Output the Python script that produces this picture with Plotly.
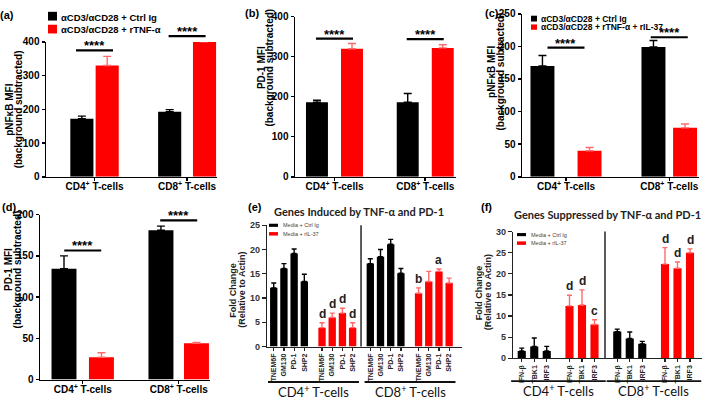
import plotly.graph_objects as go

W, H = 709, 404

# ---------------- data ----------------
cell_groups = ["CD4<sup>+</sup> T-cells", "CD8<sup>+</sup> T-cells"]
group_titles = ["CD4<sup>+</sup> T-cells", "CD8<sup>+</sup> T-cells"]
sig_text = "****"

# (a) pNFkB MFI
a_series = ["αCD3/αCD28 + Ctrl Ig", "αCD3/αCD28 + rTNF-α"]
a_ctrl = [172, 193]
a_ctrl_err = [8, 6]
a_trt = [330, 400]
a_trt_err = [27, 0]
a_sig_y = [375, 417]

# (b) PD-1 MFI
b_ctrl = [186, 186]
b_ctrl_err = [5, 22]
b_trt = [320, 322]
b_trt_err = [13, 8]
b_sig_y = [345, 344]

# (c) pNFkB MFI with rIL-37
c_series = ["αCD3/αCD28 + Ctrl Ig", "αCD3/αCD28 + rTNF-α + rIL-37"]
c_ctrl = [170, 199]
c_ctrl_err = [16, 10]
c_trt = [40, 75]
c_trt_err = [5, 6]
c_sig_y = [198, 214]

# (d) PD-1 MFI with rIL-37
d_ctrl = [134.5, 181]
d_ctrl_err = [15.5, 5]
d_trt = [27, 44]
d_trt_err = [5.5, 1]
d_sig_y = [156.5, 193]

# (e) Genes induced
e_title = "Genes Induced by TNF-α and PD-1"
e_genes = ["TNEM6F", "GM130", "PD-1", "SHP2"]
ef_series = ["Media + Ctrl Ig", "Media + rIL-37"]
e_cd4_ctrl = [12.1, 16.1, 19.2, 13.4]
e_cd4_ctrl_err = [1.0, 1.0, 0.9, 1.5]
e_cd4_il37 = [3.9, 6.0, 6.9, 3.9]
e_cd4_il37_err = [1.0, 0.9, 1.0, 1.0]
e_cd8_ctrl = [17.1, 18.5, 21.1, 15.1]
e_cd8_ctrl_err = [1.0, 1.5, 1.0, 1.0]
e_cd8_il37 = [11.0, 13.4, 15.5, 13.1]
e_cd8_il37_err = [1.1, 2.1, 0.5, 1.0]
e_cd4_letters = ["d", "d", "d", "d"]
e_cd8_letters = ["b", "", "a", ""]

# (f) Genes suppressed
f_title = "Genes Suppressed by TNF-α and PD-1"
f_genes = ["IFN-β", "TBK1", "IRF3"]
f_cd4_ctrl = [1.7, 2.8, 1.7]
f_cd4_ctrl_err = [0.7, 2.0, 1.1]
f_cd4_il37 = [12.4, 12.6, 8.0]
f_cd4_il37_err = [2.5, 3.6, 1.1]
f_cd8_ctrl = [6.3, 4.7, 3.4]
f_cd8_ctrl_err = [0.6, 1.5, 0.6]
f_cd8_il37 = [22.3, 21.3, 25.0]
f_cd8_il37_err = [3.9, 1.5, 0.9]
f_cd4_letters = ["d", "d", "c"]
f_cd8_letters = ["d", "d", "d"]

# ---------------- layout configuration ----------------
NARROW = "Liberation Sans Narrow, Arial Narrow, Liberation Sans, Arial, sans-serif"
SANS = "Liberation Sans, Arial, sans-serif"
HUM = "Lato, Open Sans, sans-serif"
RED = "#ff0000"
RED_ERR = "#ff6a6a"

P = {
    "a": dict(n="", xpx=(46, 217), ypx=(37, 176), xr=(-0.538, 1.312), yr=(0, 400), dtick=100,
              bw=0.25, off_c=(-0.15, -0.2), off_t=(0.124, 0.177)),
    "b": dict(n="2", xpx=(295, 456), ypx=(11, 176), xr=(-0.435, 1.339), yr=(0, 400), dtick=100,
              bw=0.242, off_c=(-0.193, -0.193), off_t=(0.193, 0.193)),
    "c": dict(n="3", xpx=(522, 699), ypx=(8, 176), xr=(-0.426, 1.288), yr=(0, 250), dtick=50,
              bw=0.232, off_c=(-0.228, -0.153), off_t=(0.228, 0.153)),
    "d": dict(n="4", xpx=(40, 210), ypx=(215, 385), xr=(-0.445, 1.326), yr=(0, 200), dtick=50,
              bw=0.26, off_c=(-0.195, -0.185), off_t=(0.195, 0.185)),
    "e": dict(n="5", xpx=(267, 462), ypx=(226, 351), xr=(-0.66, 18.46), yr=(0, 25), dtick=5,
              bw=0.72, starts=(0, 4.735, 9.47, 14.2), divider=8.56, lm=0.56, rm=0.62, gy=387.5),
    "f": dict(n="6", xpx=(513, 702), ypx=(232.5, 363), xr=(-0.7, 14.42), yr=(0, 30), dtick=5,
              bw=0.65, starts=(0, 3.82, 7.64, 11.46), divider=6.66, lm=0.85, rm=0.9, gy=386.7),
}


def xa(p):
    return "x" + p["n"]


def ya(p):
    return "y" + p["n"]


def px2paper(x, y):
    return x / W, 1 - y / H


def data2px(p, xv, yv):
    x0, x1 = p["xpx"]
    r0, r1 = p["xr"]
    yt, yb = p["ypx"]
    s0, s1 = p["yr"]
    return (x0 + (xv - r0) / (r1 - r0) * (x1 - x0),
            yb - (yv - s0) / (s1 - s0) * (yb - yt))


fig = go.Figure()
shapes = []
annos = []


def add_bars(p, xs, ys, errs, color, ecolor, ewidth, name):
    fig.add_trace(go.Bar(
        x=xs, y=ys, width=p["bw"], name=name,
        marker=dict(color=color, line=dict(width=0)),
        error_y=dict(type="data", array=errs, arrayminus=[0] * len(errs), symmetric=False,
                     color=ecolor, thickness=1.4, width=ewidth),
        xaxis=xa(p), yaxis=ya(p), showlegend=False, hoverinfo="skip"))


def line_px(x0, y0, x1, y1, width=1.8, color="black"):
    a0 = px2paper(x0, y0)
    a1 = px2paper(x1, y1)
    shapes.append(dict(type="line", xref="paper", yref="paper", x0=a0[0], y0=a0[1],
                       x1=a1[0], y1=a1[1], line=dict(color=color, width=width)))


def rect_px(x0, y0, x1, y1, color):
    a0 = px2paper(x0, y0)
    a1 = px2paper(x1, y1)
    shapes.append(dict(type="rect", xref="paper", yref="paper", x0=a0[0], y0=a0[1],
                       x1=a1[0], y1=a1[1], fillcolor=color, line=dict(width=0)))


def text_px(x, y, text, size, family=NARROW, bold=True, xanchor="center", yanchor="middle",
            angle=0, color="black", yshift=0):
    px, py = px2paper(x, y)
    annos.append(dict(x=px, y=py, xref="paper", yref="paper", text=text, showarrow=False,
                      xanchor=xanchor, yanchor=yanchor, textangle=angle, yshift=yshift,
                      font=dict(size=size, family=family, color=color,
                                weight="bold" if bold else "normal")))


layout_axes = {}


def axis_base(p, lw=1.5, lc="black"):
    return dict(showline=True, linecolor=lc, linewidth=lw, ticks="outside", ticklen=4,
                tickwidth=lw, tickcolor=lc, showgrid=False, zeroline=False, fixedrange=True)


ytitle_texts = {
    "a": ("pNFκB MFI", "(background subtracted)"),
    "b": ("PD-1 MFI", "(background subtracted)"),
    "c": ("pNFκB MFI", "(background subtracted)"),
    "d": ("PD-1 MFI", "(background subtracted)"),
}


def two_group_panel(key, ctrl, ctrl_err, trt, trt_err, sig_y, ytitle):
    p = P[key]
    xs_c = [g + o for g, o in enumerate(p["off_c"])]
    xs_t = [g + o for g, o in enumerate(p["off_t"])]
    add_bars(p, xs_c, ctrl, ctrl_err, "black", "black", 4, "ctrl")
    add_bars(p, xs_t, trt, trt_err, RED, RED_ERR, 4, "trt")
    centers = [(c + t) / 2 for c, t in zip(xs_c, xs_t)]
    xaxis = axis_base(p)
    xaxis.update(domain=[p["xpx"][0] / W, p["xpx"][1] / W], range=list(p["xr"]), anchor=ya(p),
                 tickmode="array", tickvals=centers, ticktext=cell_groups, ticklen=3,
                 tickfont=dict(size=10, family=NARROW, color="black", weight="bold"))
    yaxis = axis_base(p)
    yaxis.update(domain=[1 - p["ypx"][1] / H, 1 - p["ypx"][0] / H], range=list(p["yr"]),
                 dtick=p["dtick"], anchor=xa(p), ticklen=3,
                 tickfont=dict(size=10, family=NARROW, color="black", weight="bold"))
    layout_axes["xaxis" + p["n"]] = xaxis
    layout_axes["yaxis" + p["n"]] = yaxis
    for cx, sy in zip(centers, sig_y):
        pxc, pyc = data2px(p, cx, sy)
        line_px(pxc - 18.5, pyc, pxc + 18.5, pyc, width=2.2)
        text_px(pxc, pyc, sig_text, 13, family=SANS, yanchor="bottom", yshift=-5)
    tx, ty, gap = ytitle
    text_px(tx, ty, ytitle_texts[key][0], 10, angle=-90)
    text_px(tx + gap, ty, ytitle_texts[key][1], 10, angle=-90)


two_group_panel("a", a_ctrl, a_ctrl_err, a_trt, a_trt_err, a_sig_y, (10, 107, 8.5))
two_group_panel("b", b_ctrl, b_ctrl_err, b_trt, b_trt_err, b_sig_y, (261, 64, 8.5))
two_group_panel("c", c_ctrl, c_ctrl_err, c_trt, c_trt_err, c_sig_y, (492, 68, 8.5))
two_group_panel("d", d_ctrl, d_ctrl_err, d_trt, d_trt_err, d_sig_y, (9, 272, 8.5))


def gene_panel(key, genes, cd4c, cd4ce, cd4i, cd4ie, cd8c, cd8ce, cd8i, cd8ie, l4, l8, title,
               title_xy, ytitle_xy, legend_xy):
    p = P[key]
    ng = len(genes)
    st = p["starts"]
    xs = [[s + i for i in range(ng)] for s in st]
    add_bars(p, xs[0] + xs[2], cd4c + cd8c, cd4ce + cd8ce, "black", "black", 2.5, ef_series[0])
    add_bars(p, xs[1] + xs[3], cd4i + cd8i, cd4ie + cd8ie, RED, RED_ERR, 2.5, ef_series[1])
    allx = xs[0] + xs[1] + xs[2] + xs[3]
    xaxis = axis_base(p, lw=1.2, lc="#222")
    xaxis.update(domain=[p["xpx"][0] / W, p["xpx"][1] / W], range=list(p["xr"]), anchor=ya(p),
                 tickmode="array", tickvals=allx, ticktext=genes * 4, tickangle=-90, ticklen=3,
                 tickfont=dict(size=7, family=NARROW, color="#222", weight="bold"))
    yaxis = axis_base(p, lw=1.2, lc="#222")
    yaxis.update(domain=[1 - p["ypx"][1] / H, 1 - p["ypx"][0] / H], range=list(p["yr"]),
                 dtick=p["dtick"], anchor=xa(p),
                 tickfont=dict(size=9, family=NARROW, color="#333", weight="bold"))
    layout_axes["xaxis" + p["n"]] = xaxis
    layout_axes["yaxis" + p["n"]] = yaxis
    for xv, v, e, t in zip(xs[1] + xs[3], cd4i + cd8i, cd4ie + cd8ie, l4 + l8):
        if t:
            annos.append(dict(x=xv, y=v + e, xref=xa(p), yref=ya(p), text=t, showarrow=False,
                              yanchor="bottom", yshift=0,
                              font=dict(size=12, family=SANS, color="#222", weight="bold")))
    dx0, dy0 = data2px(p, p["divider"], p["yr"][0])
    dx1, dy1 = data2px(p, p["divider"], p["yr"][1])
    line_px(dx0, dy0, dx1, dy1, width=1.6, color="#333")
    gy = p["gy"]
    for k in range(2):
        x0, _ = data2px(p, st[2 * k] - p["lm"], 0)
        x1, _ = data2px(p, st[2 * k + 1] + ng - 1 + p["rm"], 0)
        line_px(x0, gy, x1, gy, width=1.8, color="#111")
        text_px((x0 + x1) / 2, gy + 9.5, group_titles[k], 13, family=HUM, bold=False, color="#111")
    text_px(title_xy[0], title_xy[1], title, 11, family=HUM, color="#222")
    text_px(ytitle_xy[0], ytitle_xy[1], "Fold Change", 9, angle=-90, color="#222")
    text_px(ytitle_xy[0] + 9, ytitle_xy[1], "(Relative to Actin)", 9, angle=-90, color="#222")
    lx, ly = legend_xy
    rect_px(lx, ly - 1.6, lx + 9, ly + 1.6, "black")
    rect_px(lx, ly + 7, lx + 9, ly + 10.6, RED)
    text_px(lx + 12, ly, ef_series[0], 5.5, family=SANS, bold=False, xanchor="left", color="#444")
    text_px(lx + 12, ly + 8.8, ef_series[1], 5.5, family=SANS, bold=False, xanchor="left", color="#444")


gene_panel("e", e_genes, e_cd4_ctrl, e_cd4_ctrl_err, e_cd4_il37, e_cd4_il37_err,
           e_cd8_ctrl, e_cd8_ctrl_err, e_cd8_il37, e_cd8_il37_err, e_cd4_letters, e_cd8_letters,
           e_title, (359, 212), (233.5, 293), (269, 226))
gene_panel("f", f_genes, f_cd4_ctrl, f_cd4_ctrl_err, f_cd4_il37, f_cd4_il37_err,
           f_cd8_ctrl, f_cd8_ctrl_err, f_cd8_il37, f_cd8_il37_err, f_cd4_letters, f_cd8_letters,
           f_title, (607, 214.5), (479, 295), (517, 235.6))

# legends for (a) and (c)
rect_px(48, 6, 57, 15, "black")
rect_px(48, 19.3, 57, 28.3, RED)
text_px(59, 11.5, a_series[0], 9.5, xanchor="left")
text_px(59, 24.5, a_series[1], 9.5, xanchor="left")

rect_px(531, 10, 537, 16, "black")
rect_px(531, 19, 537, 24.5, RED)
text_px(538.5, 13, c_series[0], 8.5, xanchor="left")
text_px(538.5, 22, c_series[1], 8.5, xanchor="left")

# panel labels
for lab, (lx, ly) in {"(a)": (6.5, 9), "(b)": (252, 7), "(c)": (492, 7),
                      "(d)": (8.5, 207), "(e)": (254.5, 207), "(f)": (486, 207)}.items():
    text_px(lx, ly, lab, 11, family=SANS)

fig.update_layout(
    width=W, height=H, margin=dict(l=0, r=0, t=0, b=0),
    paper_bgcolor="white", plot_bgcolor="white", barmode="overlay",
    shapes=shapes, annotations=annos, showlegend=False, **layout_axes)

# pull the category labels of panels (a)-(d) a little closer to their axes
for n in ["", "2", "3", "4"]:
    try:
        fig.update_layout({"xaxis" + n: dict(ticklabelstandoff=-3)})
    except ValueError:
        pass

fig.write_html("out.html", config={"displayModeBar": False, "staticPlot": True},
               post_script="document.body.style.margin='0px';document.body.style.overflow='hidden';")
